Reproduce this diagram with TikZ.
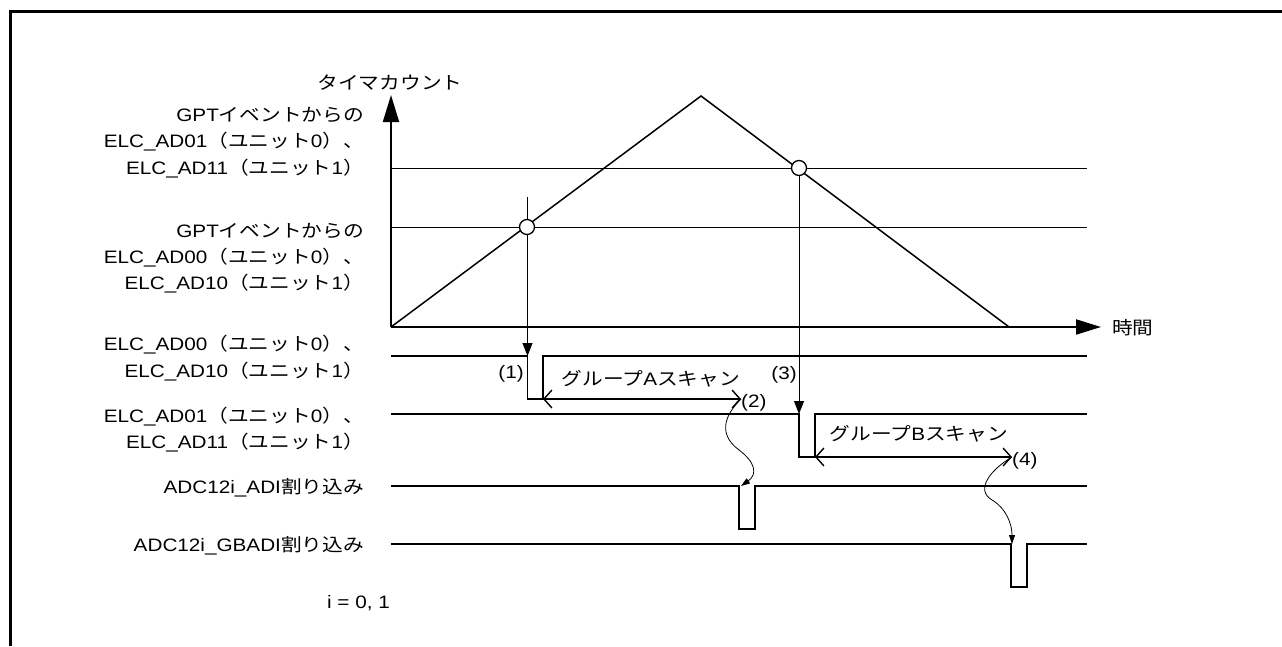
\documentclass[tikz,border=0pt]{standalone}
\usepackage{fontspec}
\usepackage{graphicx}
\setmainfont{Liberation Sans}
\newfontfamily\jp{Noto Sans CJK JP}
\usetikzlibrary{arrows.meta}
\newcommand\elc[2]{ELC\_AD#1{\jp （ユニット}#2{\jp ）}}
\newcommand\tx[1]{\scalebox{1.15}[1]{#1}}
\begin{document}
\begin{tikzpicture}[x=1pt,y=-1pt,
  lbl/.style={inner sep=0pt,font=\fontsize{18}{22}\selectfont},
  frame/.style={line width=3pt},
  axis/.style={line width=2pt},
  sig/.style={line width=1.7pt,line join=miter},
  refl/.style={line width=1pt},
  tri/.style={line width=1.5pt},
  drop/.style={line width=0.9pt,-{Triangle[length=13pt,width=10pt]}},
  span/.style={line width=1.4pt,{Straight Barb[length=8pt,width=18pt]}-{Straight Barb[length=8pt,width=18pt]}},
  wig/.style={line width=0.8pt,-{Triangle[length=9pt,width=6pt]}},
  hit/.style={circle,draw,fill=white,line width=1.3pt,minimum size=15pt,inner sep=0pt}]
\useasboundingbox (0,0) rectangle (1282,646);
\draw[frame] (10,646) -- (10,11) -- (1282,11);

% axes
\coordinate (O) at (391,327);
\coordinate (ytop) at (391,95);
\coordinate (xend) at (1101,327);
\draw[axis,-{Triangle[length=27pt,width=16pt]}] (O) -- (ytop);
\draw[axis,-{Triangle[length=25pt,width=15pt]}] (O) -- (xend);

% reference levels
\coordinate (r1a) at (391,168); \coordinate (r1b) at (1087,168);
\coordinate (r0a) at (391,227); \coordinate (r0b) at (1087,227);
\draw[refl] (r1a) -- (r1b);
\draw[refl] (r0a) -- (r0b);

% timer count
\coordinate (peak) at (701,96);
\coordinate (tend) at (1009,327);
\draw[tri] (O) -- (peak) -- (tend);

% signal 1
\coordinate (s1a) at (391,356);
\coordinate (s1d) at (527.5,356);
\coordinate (s1l) at (527.5,399);
\coordinate (s1r) at (543,399);
\coordinate (s1u) at (543,356);
\coordinate (s1b) at (1087,356);
\draw[sig] (s1a) -- (s1d) -- (s1l) -- (s1r) -- (s1u) -- (s1b);

% signal 2
\coordinate (s2a) at (391,414);
\coordinate (s2d) at (799,414);
\coordinate (s2l) at (799,457);
\coordinate (s2r) at (815,457);
\coordinate (s2u) at (815,414);
\coordinate (s2b) at (1087,414);
\draw[sig] (s2a) -- (s2d) -- (s2l) -- (s2r) -- (s2u) -- (s2b);

% signal 3 (ADI)
\coordinate (s3a) at (391,486);
\coordinate (s3d) at (739,486);
\coordinate (s3l) at (739,529);
\coordinate (s3r) at (755,529);
\coordinate (s3u) at (755,486);
\coordinate (s3b) at (1087,486);
\draw[sig] (s3a) -- (s3d) -- (s3l) -- (s3r) -- (s3u) -- (s3b);

% signal 4 (GBADI)
\coordinate (s4a) at (391,544);
\coordinate (s4d) at (1011,544);
\coordinate (s4l) at (1011,587);
\coordinate (s4r) at (1027,587);
\coordinate (s4u) at (1027,544);
\coordinate (s4b) at (1087,544);
\draw[sig] (s4a) -- (s4d) -- (s4l) -- (s4r) -- (s4u) -- (s4b);

% trigger drops
\coordinate (v1top) at (527.5,197);
\draw[drop] (v1top) -- (s1d);
\node[hit] (c1) at (527,227) {};
\node[hit] (c2) at (799,168) {};
\draw[drop] (c2.south) -- (s2d);

% scan spans
\coordinate (spAe) at (741,399);
\coordinate (spBe) at (1012,457);
\draw[span] (s1r) -- (spAe);
\draw[span] (s2r) -- (spBe);

% wiggly arrows
\coordinate (t3) at (741,486);
\coordinate (t4) at (1012,544);
\draw[wig] (spAe) .. controls (728,412) and (715,432) .. (739,450)
  .. controls (755,462) and (758,474) .. (t3);
\draw[wig] (spBe) .. controls (990,470) and (975,490) .. (992,500)
  .. controls (1006,508) and (1012,524) .. (t4);

% labels
\node[lbl,anchor=base] (tc) at (390,89) {\tx{\jp タイマカウント}};
\node[lbl,anchor=base west] (jk) at (1112,334) {\tx{\jp 時間}};

\node[lbl,anchor=base east] (a1) at (364,121.5) {\tx{GPT{\jp イベントからの}}};
\node[lbl,anchor=base east] (a2) at (364,147) {\tx{\elc{01}{0}{\jp 、}}};
\node[lbl,anchor=base east] (a3) at (364,174) {\tx{\elc{11}{1}}};

\node[lbl,anchor=base east] (b1) at (364,237) {\tx{GPT{\jp イベントからの}}};
\node[lbl,anchor=base east] (b2) at (364,263) {\tx{\elc{00}{0}{\jp 、}}};
\node[lbl,anchor=base east] (b3) at (364,289) {\tx{\elc{10}{1}}};

\node[lbl,anchor=base east] (g1) at (364,350) {\tx{\elc{00}{0}{\jp 、}}};
\node[lbl,anchor=base east] (g2) at (364,377) {\tx{\elc{10}{1}}};
\node[lbl,anchor=base east] (h1) at (364,422) {\tx{\elc{01}{0}{\jp 、}}};
\node[lbl,anchor=base east] (h2) at (364,448) {\tx{\elc{11}{1}}};
\node[lbl,anchor=base east] (adi) at (364,493) {\tx{ADC12i\_ADI{\jp 割り込み}}};
\node[lbl,anchor=base east] (gba) at (364,551) {\tx{ADC12i\_GBADI{\jp 割り込み}}};
\node[lbl,anchor=base] (ii) at (358.5,608) {\tx{i = 0, 1}};

\node[lbl,anchor=base] (n1) at (511,378) {\tx{(1)}};
\node[lbl,anchor=base west] (n2) at (741,407) {\tx{(2)}};
\node[lbl,anchor=base] (n3) at (784,379) {\tx{(3)}};
\node[lbl,anchor=base west] (n4) at (1012,465) {\tx{(4)}};

\node[lbl,anchor=base] (sa) at (651,385) {\tx{{\jp グループ}A{\jp スキャン}}};
\node[lbl,anchor=base] (sb) at (919,440) {\tx{{\jp グループ}B{\jp スキャン}}};
\end{tikzpicture}
\end{document}
